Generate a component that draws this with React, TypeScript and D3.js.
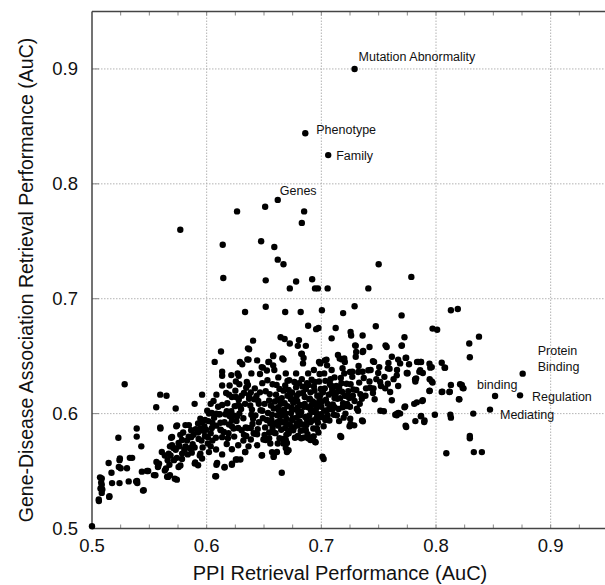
import React from 'react';
import * as d3 from 'd3';

// PPI retrieval AuC (x) vs Gene-Disease association retrieval AuC (y)
const points: [number, number][] = [
  // upper outliers
  [0.729,0.900],[0.686,0.844],[0.706,0.825],[0.662,0.786],
  [0.6265,0.776],[0.651,0.780],[0.685,0.776],[0.683,0.766],[0.577,0.760],[0.614,0.747],[0.6475,0.750],[0.659,0.745],[0.662,0.734],[0.667,0.730],[0.750,0.730],[0.6145,0.718],[0.6515,0.716],[0.678,0.715],[0.692,0.717],[0.7785,0.719],[0.6725,0.709],[0.6945,0.709],[0.697,0.709],[0.7055,0.709],[0.741,0.709],
  [0.6335,0.6885],[0.6515,0.693],[0.6685,0.6885],[0.682,0.6885],[0.7005,0.690],[0.719,0.6875],[0.729,0.6935],[0.813,0.690],[0.819,0.691],[0.770,0.6855],
  // 0.645 - 0.68
  [0.6885,0.6765],[0.6955,0.6735],[0.6975,0.6745],[0.7125,0.6745],[0.7475,0.676],[0.797,0.674],[0.801,0.673],[0.7255,0.671],[0.726,0.668],[0.736,0.668],[0.709,0.6655],[0.6645,0.6665],[0.668,0.665],[0.6805,0.664],[0.7725,0.6665],[0.8375,0.667],[0.829,0.661],[0.6405,0.6635],[0.6725,0.661],[0.6865,0.659],[0.6795,0.659],[0.757,0.658],[0.742,0.658],[0.730,0.659],[0.7365,0.6545],[0.770,0.659],[0.6125,0.654],[0.637,0.656],[0.7145,0.651],[0.8295,0.649],[0.7615,0.6495],[0.7735,0.6485],[0.767,0.647],
  [0.636,0.6568],[0.6355,0.6472],[0.644,0.6463],[0.648,0.6405],[0.6538,0.6449],[0.658,0.6507],[0.666,0.648],[0.658,0.642],[0.683,0.6522],[0.684,0.6437],[0.699,0.6437],[0.703,0.6463],[0.705,0.642],[0.718,0.6472],[0.720,0.648],[0.7295,0.6594],[0.7304,0.6536],[0.736,0.6536],[0.745,0.6457],[0.756,0.6594],[0.7687,0.6437],[0.774,0.6487],[0.7847,0.6449],[0.7868,0.6449],[0.7943,0.6435],[0.7963,0.6405],[0.805,0.6443],[0.8079,0.640],[0.7702,0.6594],
  // 0.63 - 0.645
  [0.607,0.645],[0.6365,0.647],[0.629,0.645],[0.631,0.643],[0.6545,0.645],[0.658,0.650],[0.667,0.647],[0.6825,0.652],[0.6845,0.6485],[0.698,0.645],[0.7045,0.647],[0.716,0.648],[0.7205,0.645],[0.730,0.6495],[0.746,0.645],[0.7585,0.644],[0.7835,0.645],[0.787,0.645],[0.795,0.640],[0.8075,0.640],[0.7765,0.643],[0.775,0.635],[0.7855,0.6365],[0.766,0.638],[0.7595,0.639],[0.743,0.638],[0.736,0.6365],[0.727,0.6365],[0.720,0.635],[0.709,0.638],[0.6135,0.6365],[0.6135,0.633],[0.627,0.635],[0.628,0.633],[0.639,0.635],[0.649,0.640],[0.659,0.638],[0.669,0.635],[0.678,0.635],[0.6885,0.635],[0.6935,0.638],[0.7025,0.635],
  [0.725,0.6362],[0.7322,0.6362],[0.741,0.6377],[0.7496,0.6353],[0.758,0.6394],[0.7658,0.6333],[0.7745,0.6353],[0.7827,0.6307],[0.7751,0.6353],[0.7862,0.6377],[0.7885,0.6353],[0.7963,0.6281],[0.7818,0.6298],[0.8756,0.6348],
  // right side
  [0.7945,0.630],[0.797,0.627],[0.782,0.630],[0.782,0.628],[0.813,0.625],[0.824,0.622],[0.8225,0.625],[0.7945,0.620],[0.8055,0.619],[0.812,0.619],[0.820,0.6125],[0.781,0.6085],[0.788,0.611],[0.7725,0.6055],[0.766,0.600],[0.7645,0.599],[0.799,0.599],[0.8125,0.599],[0.813,0.5965],[0.8325,0.600],[0.787,0.598],[0.790,0.594],[0.782,0.5935],[0.7735,0.5895],[0.8295,0.5805],[0.8295,0.5785],[0.833,0.5665],[0.840,0.5665],[0.809,0.5655],[0.7515,0.6025],[0.7545,0.602],[0.732,0.6025],[0.7355,0.594],[0.7255,0.591],[0.7155,0.5935],[0.7165,0.5805],[0.701,0.5625],[0.702,0.5605],[0.6655,0.5485],
  [0.7513,0.6275],[0.7557,0.622],[0.760,0.6188],[0.7615,0.6116],[0.7455,0.622],[0.7353,0.613],[0.731,0.6043],[0.7943,0.6197],[0.805,0.6188],[0.8117,0.6188],[0.821,0.6255],[0.8233,0.6223],[0.8204,0.6124],[0.7731,0.6063],[0.7833,0.6098],[0.7885,0.6116],[0.8515,0.6153],[0.8733,0.6159],[0.8471,0.6035],[0.7868,0.5976],[0.7897,0.5927],[0.7687,0.600],[0.7658,0.5985],[0.7672,0.6005],[0.774,0.5884],[0.7252,0.5956],[0.7246,0.589],[0.7287,0.5898],[0.7362,0.5933],[0.7173,0.5797],
  // lower core
  [0.6962,0.5869],[0.6802,0.5797],[0.6845,0.5791],[0.6889,0.5791],[0.6932,0.5802],[0.6947,0.5753],[0.670,0.5744],[0.6714,0.5681],[0.6584,0.5623],[0.6613,0.5666],[0.6483,0.5637],[0.6337,0.5666],[0.6294,0.560],
  [0.601,0.5795],[0.601,0.574],[0.6035,0.5715],[0.602,0.5665],[0.606,0.611],[0.6075,0.5455],[0.6085,0.5555],[0.6105,0.5995],[0.612,0.586],[0.6135,0.5795],[0.6135,0.5645],[0.6155,0.553],[0.6175,0.5735],[0.619,0.583],[0.622,0.5555],[0.622,0.569],[0.6235,0.587],[0.6255,0.560],[0.626,0.5935],[0.6285,0.600],[0.632,0.5765],[0.6335,0.5665],[0.6345,0.5805],[0.6355,0.5875],[0.6405,0.5955],[0.642,0.5825],[0.644,0.5725],[0.648,0.5635],[0.6515,0.577],[0.6555,0.574],[0.657,0.5665],[0.6585,0.563],[0.662,0.574],[0.667,0.574],[0.669,0.570],[0.670,0.5665],[0.669,0.577],[0.6715,0.583],[0.6795,0.5805],[0.6825,0.5785],[0.6885,0.5785],[0.6905,0.577],[0.693,0.580],[0.695,0.575],[0.6955,0.587],
  [0.6085,0.6165],[0.6135,0.6245],[0.617,0.618],[0.620,0.6245],[0.622,0.6145],[0.6255,0.628],[0.6255,0.6145],[0.629,0.6065],[0.6325,0.618],[0.635,0.6275],[0.637,0.613],[0.6085,0.600],[0.6115,0.5995],[0.6175,0.602],[0.622,0.5945],[0.6215,0.602],[0.6085,0.5895],[0.6035,0.583],[0.605,0.5765],
  // dense core
  [0.642,0.622],[0.645,0.611],[0.647,0.603],[0.649,0.596],[0.651,0.588],[0.644,0.582],[0.653,0.629],[0.655,0.617],[0.656,0.607],[0.657,0.599],[0.659,0.591],[0.660,0.583],[0.661,0.625],[0.662,0.612],[0.663,0.603],[0.664,0.594],[0.665,0.586],[0.666,0.578],[0.667,0.620],[0.668,0.609],[0.669,0.600],[0.670,0.591],[0.671,0.583],[0.672,0.629],[0.673,0.616],[0.674,0.605],[0.675,0.596],[0.676,0.588],[0.677,0.579],[0.678,0.623],[0.679,0.611],[0.680,0.601],[0.681,0.593],[0.682,0.585],[0.683,0.630],[0.684,0.618],[0.685,0.606],[0.686,0.597],[0.687,0.590],[0.688,0.582],[0.689,0.625],[0.690,0.613],[0.691,0.603],[0.692,0.594],[0.693,0.587],[0.694,0.620],[0.695,0.609],[0.696,0.600],[0.697,0.592],[0.698,0.628],[0.699,0.616],[0.700,0.606],[0.701,0.597],[0.702,0.589],[0.703,0.622],[0.704,0.612],[0.705,0.603],[0.707,0.594],[0.708,0.630],[0.709,0.618],[0.710,0.608],[0.711,0.599],[0.713,0.624],[0.714,0.613],[0.715,0.604],[0.717,0.631],[0.718,0.619],[0.719,0.609],[0.721,0.600],[0.722,0.626],[0.723,0.615],[0.725,0.606],[0.727,0.632],[0.728,0.621],[0.729,0.611],[0.733,0.627],[0.734,0.617],[0.737,0.631],[0.739,0.622],[0.742,0.628],[0.745,0.618],[0.748,0.630],[0.752,0.624],[0.755,0.632],[0.758,0.626],[0.763,0.630],[0.767,0.624],
  [0.625,0.620],[0.628,0.612],[0.630,0.604],[0.632,0.596],[0.634,0.588],[0.636,0.625],[0.637,0.616],[0.638,0.607],[0.639,0.599],[0.640,0.591],[0.641,0.583],[0.618,0.609],[0.620,0.598],[0.622,0.589],[0.624,0.580],[0.612,0.592],[0.615,0.584],[0.608,0.579],[0.605,0.592],[0.610,0.606],[0.602,0.600],[0.597,0.585],[0.593,0.578],
  [0.6735,0.6125],[0.6815,0.6075],[0.6855,0.6145],[0.6925,0.6105],[0.6775,0.6035],[0.6895,0.5985],[0.6955,0.6045],[0.6705,0.6065],[0.6645,0.6085],[0.6605,0.6165],[0.6745,0.5945],[0.6835,0.5905],[0.6985,0.6125],[0.7065,0.6165],[0.7025,0.6025],[0.6905,0.6185],[0.6785,0.6155],[0.6655,0.5985],[0.6545,0.6115],[0.6515,0.6195],[0.6485,0.6265],[0.6875,0.6265],[0.6945,0.6275],[0.7085,0.6245],[0.7125,0.6175],[0.7165,0.6135],[0.7235,0.6195],[0.6565,0.5945],[0.6625,0.5895],[0.6695,0.5815],[0.6455,0.5925],[0.6395,0.6035],[0.6335,0.6085],[0.6435,0.6155],
  [0.6465,0.6185],[0.6505,0.6085],[0.6535,0.6005],[0.6555,0.5915],[0.6585,0.6045],[0.6615,0.5985],[0.6635,0.6215],[0.6655,0.6135],[0.6675,0.6035],[0.6695,0.5955],[0.6715,0.6205],[0.6735,0.6005],[0.6755,0.6095],[0.6765,0.6275],[0.6785,0.5965],[0.6805,0.6175],[0.6825,0.6015],[0.6845,0.5855],[0.6865,0.6215],[0.6885,0.6055],[0.6905,0.5925],[0.6915,0.6295],[0.6935,0.6015],[0.6965,0.6155],[0.6975,0.5965],[0.6995,0.6215],[0.7005,0.6105],[0.7035,0.5945],[0.7055,0.6085],[0.7075,0.6255],[0.7095,0.6035],[0.7115,0.6135],[0.7135,0.5985],[0.7155,0.6225],[0.7185,0.6055],[0.7205,0.6155],[0.7225,0.6085],[0.7255,0.6255],[0.7275,0.6155],[0.7305,0.6205],[0.7335,0.6085],[0.7385,0.6155],[0.7425,0.6225],[0.7465,0.6125],[0.6585,0.5835],[0.6635,0.5785],[0.6755,0.5855],[0.6795,0.5895],[0.6865,0.5855],[0.6975,0.5835],[0.6545,0.5835],[0.6495,0.5775],[0.6385,0.5775],[0.6305,0.5855],[0.6265,0.5975],[0.6245,0.6065],[0.6195,0.6165],[0.6155,0.5925],[0.6135,0.6075],[0.6065,0.5965],[0.6045,0.5875],[0.6185,0.5785],[0.6275,0.5725],[0.6365,0.5715],[0.6425,0.5985],[0.6465,0.6345],[0.6525,0.6375],[0.6625,0.6315],[0.6705,0.6285],[0.6805,0.6265],[0.6985,0.6345],[0.7115,0.6315],[0.7185,0.6395],[0.7325,0.6415],[0.7505,0.6405],[0.6285,0.6255],[0.6215,0.6335],[0.5965,0.5705],[0.5895,0.5705],[0.5835,0.5645],[0.5785,0.5605],[0.5985,0.5805],
  [0.6575,0.6255],[0.6595,0.6105],[0.6625,0.6055],[0.6645,0.6005],[0.6665,0.5925],[0.6685,0.6245],[0.6705,0.6155],[0.6725,0.5905],[0.6745,0.6185],[0.6775,0.6125],[0.6795,0.6055],[0.6815,0.5985],[0.6835,0.6235],[0.6855,0.6085],[0.6875,0.5945],[0.6895,0.6125],[0.6915,0.6075],[0.6935,0.6235],[0.6955,0.5955],[0.6975,0.6075],[0.6995,0.5995],[0.7015,0.6185],[0.7035,0.6285],[0.7055,0.5985],[0.7075,0.6045],[0.7095,0.6215],[0.7115,0.6055],[0.7145,0.6195],[0.7175,0.6265],[0.7195,0.5965],[0.7215,0.6065],[0.7245,0.6135],[0.6785,0.5915],[0.6735,0.5865],[0.6685,0.5875],[0.6615,0.5925],[0.6575,0.5875],[0.6525,0.5945],[0.6485,0.6025],[0.6455,0.6085],[0.6415,0.6125],[0.6385,0.6185],[0.6345,0.6225],[0.6305,0.6155],[0.6275,0.6075],[0.6235,0.5985],[0.6195,0.5905],[0.6165,0.5995],[0.6125,0.5855],[0.6275,0.5875],[0.6325,0.5815],[0.6385,0.5875],[0.6445,0.5865],[0.6505,0.5815],[0.6545,0.5785],[0.5865,0.5855],[0.5905,0.5865],[0.5795,0.5835],[0.5755,0.5745],[0.5805,0.5685],[0.5865,0.5795],[0.5925,0.5835],[0.5675,0.5555],[0.5715,0.5595],[0.6015,0.5935],[0.6045,0.6005],
  // lower-left band
  [0.500,0.502],[0.506,0.524],[0.515,0.5275],[0.5085,0.531],[0.509,0.534],[0.5085,0.538],[0.508,0.540],[0.5085,0.5435],[0.507,0.5445],[0.5175,0.5395],[0.524,0.5395],[0.517,0.5485],[0.5145,0.557],[0.525,0.5525],[0.524,0.5595],[0.5305,0.5525],[0.523,0.579],[0.5285,0.6255],[0.532,0.541],[0.533,0.5615],[0.535,0.5615],[0.5385,0.541],[0.5395,0.5395],[0.5445,0.533],[0.5435,0.5495],[0.539,0.587],[0.539,0.580],[0.543,0.5715],[0.548,0.550],[0.554,0.5465],[0.5575,0.5535],[0.5585,0.5565],[0.556,0.6055],[0.5595,0.588],[0.5595,0.6165],[0.5635,0.5635],[0.5635,0.5505],[0.5655,0.545],[0.566,0.5595],[0.568,0.5465],[0.565,0.6155],[0.573,0.6045],[0.5735,0.589],[0.574,0.5425],[0.569,0.579],[0.568,0.5715],[0.571,0.570],[0.573,0.5685],[0.5685,0.5635],[0.574,0.5615],[0.5755,0.5535],[0.577,0.5815],[0.5785,0.577],[0.5815,0.590],[0.5845,0.590],[0.5815,0.5715],[0.585,0.570],[0.587,0.566],[0.5885,0.5815],[0.5895,0.6085],[0.590,0.5575],[0.5925,0.555],[0.594,0.5635],[0.5945,0.5955],[0.5955,0.5925],[0.5955,0.5765],[0.596,0.6165],[0.598,0.589],[0.5995,0.586],
  [0.5597,0.587],[0.5742,0.5898],[0.5698,0.5797],[0.5609,0.5666],[0.5562,0.5579],[0.5577,0.5542],[0.5669,0.5652],[0.5698,0.5724],[0.5727,0.5696],[0.5762,0.5716],[0.5786,0.5652],[0.5645,0.5522],[0.5664,0.5449],[0.5553,0.5464],[0.549,0.5501],[0.5451,0.5333],[0.5393,0.5414],[0.5234,0.5536],[0.5243,0.5609],[0.5152,0.5281],[0.5059,0.5252],[0.5074,0.5348],[0.5722,0.5433],[0.5771,0.5548],[0.5896,0.5565],[0.5945,0.5652],[0.596,0.5609],[0.5878,0.5733],[0.5843,0.5798],[0.5945,0.587],[0.6082,0.5455],[0.6091,0.557],[0.6157,0.5536],[0.6221,0.5565],[0.6265,0.560],[0.6082,0.5688],[0.5829,0.5765],[0.5925,0.5915],[0.5985,0.5945],[0.6005,0.6025],[0.6035,0.6085]
];

const annotations: { name: string[]; x: number; y: number }[] = [
  { name: ['Mutation Abnormality'], x: 0.729, y: 0.900 },
  { name: ['Phenotype'], x: 0.686, y: 0.844 },
  { name: ['Family'], x: 0.706, y: 0.825 },
  { name: ['Genes'], x: 0.662, y: 0.786 },
  { name: ['Protein', 'Binding'], x: 0.8756, y: 0.6348 },
  { name: ['binding'], x: 0.8515, y: 0.6153 },
  { name: ['Regulation'], x: 0.8733, y: 0.6159 },
  { name: ['Mediating'], x: 0.8471, y: 0.6035 },
];
// label placement (pixels relative to point): style only
const labelOffsets: Record<string, [number, number]> = {
  'Mutation Abnormality': [4, -12],
  'Phenotype': [11, -4],
  'Family': [8, 0],
  'Genes': [2, -9],
  'Protein': [15, -23],
  'binding': [-18, -12],
  'Regulation': [12, 1],
  'Mediating': [10, 5],
};

const majorTicks = [0.5, 0.6, 0.7, 0.8, 0.9];
const gridTicks = [0.6, 0.7, 0.8, 0.9];
const minorTicks = d3.range(0.525, 0.95, 0.025);
const xTitle = 'PPI Retrieval Performance (AuC)';
const yTitle = 'Gene-Disease Association Retrieval Performance (AuC)';

const FONT = '"Liberation Sans", Arial, Helvetica, sans-serif';

export default function App() {
  const left = 92, right = 608, top = 11.5, bottom = 528.5;
  const x = d3.scaleLinear().domain([0.5, 0.95]).range([left, right]);
  const y = d3.scaleLinear().domain([0.5, 0.95]).range([bottom, top]);
  const fmt = d3.format('.1f');
  return (
    <svg width={605} height={585} style={{ position: 'absolute', left: 0, top: 0, background: '#fff' }} fontFamily={FONT}>
      <rect x={0} y={0} width={605} height={585} fill="#fff" />
      {gridTicks.map(t => (
        <line key={'gx' + t} x1={x(t)} x2={x(t)} y1={top} y2={bottom} stroke="#aaa" strokeWidth={0.9} strokeDasharray="1.5,1.5" />
      ))}
      {gridTicks.map(t => (
        <line key={'gy' + t} x1={left} x2={right} y1={y(t)} y2={y(t)} stroke="#aaa" strokeWidth={0.9} strokeDasharray="1.5,1.5" />
      ))}
      {minorTicks.map(t => (
        <g key={'mt' + t}>
          <line x1={x(t)} x2={x(t)} y1={bottom} y2={bottom - 4} stroke="#888" strokeWidth={1} />
          <line x1={x(t)} x2={x(t)} y1={top} y2={top + 4} stroke="#888" strokeWidth={1} />
        </g>
      ))}
      {majorTicks.map(t => (
        <line key={'yt' + t} x1={left} x2={left + 7} y1={y(t)} y2={y(t)} stroke="#888" strokeWidth={1} />
      ))}
      <line x1={left} x2={right} y1={top} y2={top} stroke="#444" strokeWidth={1.5} />
      <line x1={left} x2={left} y1={top} y2={bottom} stroke="#444" strokeWidth={1.5} />
      <line x1={left} x2={right} y1={bottom} y2={bottom} stroke="#444" strokeWidth={1.5} />
      {majorTicks.map(t => (
        <text key={'xl' + t} x={x(t)} y={552} textAnchor="middle" fontSize={18.5} fill="#111">{fmt(t)}</text>
      ))}
      {majorTicks.map(t => (
        <text key={'yl' + t} x={78} y={y(t) + 6.5} textAnchor="end" fontSize={18.5} fill="#111">{fmt(t)}</text>
      ))}
      <text x={340} y={580} textAnchor="middle" fontSize={20} fill="#111">{xTitle}</text>
      <text transform={`translate(33,${280}) rotate(-90)`} textAnchor="middle" fontSize={19.5} fill="#111">{yTitle}</text>
      {points.map((p, i) => (
        <circle key={i} cx={x(p[0])} cy={y(p[1])} r={3.2} fill="#000" />
      ))}
      {annotations.map(a => {
        const off = labelOffsets[a.name[0]];
        return (
          <text key={a.name[0]} x={x(a.x) + off[0]} y={y(a.y) + off[1] + 4.5} fontSize={12.5} fill="#111">
            {a.name.map((n, j) => (
              <tspan key={n} x={x(a.x) + off[0]} dy={j === 0 ? 0 : 15.5}>{n}</tspan>
            ))}
          </text>
        );
      })}
    </svg>
  );
}
